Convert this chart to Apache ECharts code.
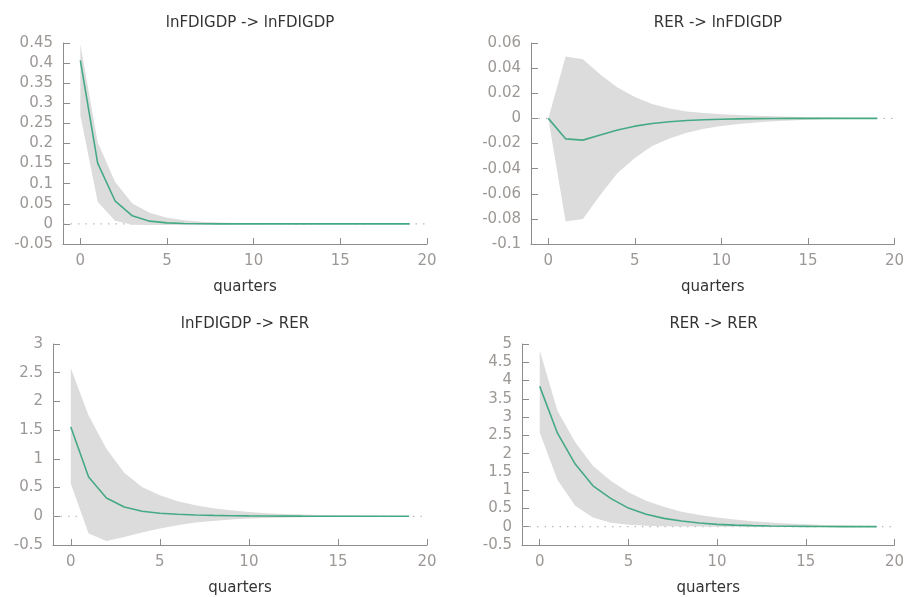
<!DOCTYPE html>
<html>
<head>
<meta charset="utf-8">
<title>Impulse responses</title>
<script src="https://cdn.jsdelivr.net/npm/echarts@6/dist/echarts.min.js"></script>
<style>
  html, body { margin: 0; padding: 0; background: #fff; }
  #chart { width: 907px; height: 597px; }
</style>
</head>
<body>
<div id="chart"></div>
<script>
const quarters = [0, 1, 2, 3, 4, 5, 6, 7, 8, 9, 10, 11, 12, 13, 14, 15, 16, 17, 18, 19];
const xTicks = [0, 5, 10, 15, 20];

// lnFDIGDP -> lnFDIGDP
const irfFF = [0.407, 0.151, 0.0575, 0.020, 0.0068, 0.0025, 0.0009, 0.0003, 0.0001, 0, 0, 0, 0, 0, 0, 0, 0, 0, 0, 0];
const hiFF = [0.447, 0.203, 0.105, 0.051, 0.0275, 0.0155, 0.009, 0.0055, 0.0033, 0.002, 0.0012, 0.0008, 0.0005, 0.0003, 0.0002, 0.0001, 0.0001, 0, 0, 0];
const loFF = [0.27, 0.055, 0.008, -0.002, -0.003, -0.003, -0.0025, -0.002, -0.0015, -0.001, -0.0008, -0.0005, -0.0003, -0.0002, -0.0001, -0.0001, 0, 0, 0, 0];

// RER -> lnFDIGDP
const irfRF = [0, -0.0163, -0.0173, -0.0133, -0.0093, -0.0062, -0.0041, -0.0027, -0.0017, -0.0011, -0.0007, -0.0004, -0.0002, -0.0001, 0, 0, 0, 0, 0, 0];
const hiRF = [0, 0.0493, 0.047, 0.035, 0.0245, 0.017, 0.0115, 0.0078, 0.0055, 0.0042, 0.0033, 0.0026, 0.002, 0.0016, 0.0012, 0.0009, 0.0007, 0.0005, 0.0003, 0.0002];
const loRF = [0, -0.082, -0.080, -0.061, -0.0435, -0.0315, -0.022, -0.016, -0.0115, -0.0083, -0.006, -0.0044, -0.0032, -0.0023, -0.0016, -0.0011, -0.0007, -0.0005, -0.0003, -0.0002];

// lnFDIGDP -> RER
const irfFR = [1.553, 0.684, 0.319, 0.162, 0.087, 0.052, 0.035, 0.023, 0.015, 0.010, 0.007, 0.005, 0.003, 0.002, 0.0015, 0.001, 0.0007, 0.0005, 0.0003, 0.0002];
const hiFR = [2.578, 1.755, 1.176, 0.76, 0.51, 0.365, 0.26, 0.19, 0.14, 0.104, 0.075, 0.055, 0.04, 0.03, 0.022, 0.016, 0.012, 0.009, 0.006, 0.004];
const loFR = [0.568, -0.30, -0.43, -0.36, -0.284, -0.214, -0.156, -0.11, -0.08, -0.058, -0.04, -0.03, -0.022, -0.016, -0.011, -0.008, -0.006, -0.004, -0.003, -0.002];

// RER -> RER
const irfRR = [3.84, 2.56, 1.715, 1.12, 0.775, 0.51, 0.34, 0.228, 0.155, 0.10, 0.065, 0.045, 0.03, 0.02, 0.013, 0.009, 0.006, 0.004, 0.003, 0.002];
const hiRR = [4.82, 3.175, 2.31, 1.67, 1.26, 0.94, 0.71, 0.55, 0.41, 0.32, 0.255, 0.2, 0.15, 0.115, 0.09, 0.07, 0.05, 0.04, 0.03, 0.02];
const loRR = [2.58, 1.28, 0.575, 0.255, 0.11, 0.055, 0.027, 0.015, 0.008, 0.004, 0.002, 0.001, 0, 0, 0, 0, 0, 0, 0, 0];

const panels = [
  { title: 'lnFDIGDP -> lnFDIGDP', irf: irfFF, hi: hiFF, lo: loFF, min: -0.05, max: 0.45, step: 0.05,
    grid: { left: 63, top: 43, width: 364, height: 201 } },
  { title: 'RER -> lnFDIGDP', irf: irfRF, hi: hiRF, lo: loRF, min: -0.1, max: 0.06, step: 0.02,
    grid: { left: 531, top: 43, width: 364, height: 201 } },
  { title: 'lnFDIGDP -> RER', irf: irfFR, hi: hiFR, lo: loFR, min: -0.5, max: 3, step: 0.5,
    grid: { left: 53, top: 344, width: 374, height: 203 } },
  { title: 'RER -> RER', irf: irfRR, hi: hiRR, lo: loRR, min: -0.5, max: 5, step: 0.5,
    grid: { left: 522, top: 344, width: 373, height: 203 } }
];

const font = 'DejaVu Sans';
const axisGrey = '#8c8c8c';
const labelGrey = '#9c9896';

// one polygon per panel: upper bound left to right, lower bound back
function bandRenderer(rows) {
  return function (params, api) {
    if (params.dataIndex !== 0) return null;
    const upper = rows.map(r => api.coord([r[0], r[2]]));
    const lower = rows.map(r => api.coord([r[0], r[1]])).reverse();
    return {
      type: 'polygon',
      shape: { points: upper.concat(lower) },
      style: { fill: '#dcdcdc', stroke: 'none' }
    };
  };
}

const option = {
  animation: false,
  title: [],
  grid: [],
  xAxis: [],
  yAxis: [],
  series: []
};

panels.forEach((p, i) => {
  option.grid.push(p.grid);
  option.title.push({
    text: p.title,
    left: p.grid.left + p.grid.width / 2,
    top: p.grid.top - 32,
    textAlign: 'center',
    textStyle: { fontFamily: font, fontSize: 15, fontWeight: 'normal', color: '#333' }
  });
  option.xAxis.push({
    gridIndex: i,
    type: 'value',
    min: -1,
    max: 20,
    name: 'quarters',
    nameLocation: 'middle',
    nameGap: 36,
    nameTextStyle: { fontFamily: font, fontSize: 15, color: '#333' },
    axisLine: { show: true, onZero: false, lineStyle: { color: axisGrey, width: 1 } },
    axisTick: { show: true, inside: true, length: 6, customValues: xTicks, lineStyle: { color: axisGrey } },
    axisLabel: { customValues: xTicks, margin: 10, fontFamily: font, fontSize: 15, color: labelGrey },
    splitLine: { show: false }
  });
  option.yAxis.push({
    gridIndex: i,
    type: 'value',
    min: p.min,
    max: p.max,
    interval: p.step,
    axisLine: { show: true, onZero: false, lineStyle: { color: axisGrey, width: 1 } },
    axisTick: { show: true, inside: true, length: 7, lineStyle: { color: axisGrey } },
    axisLabel: { margin: 10, fontFamily: font, fontSize: 15, color: labelGrey },
    splitLine: { show: false }
  });

  // dotted zero line across the whole axis
  option.series.push({
    type: 'line',
    xAxisIndex: i,
    yAxisIndex: i,
    data: [[-1, 0], [20, 0]],
    symbol: 'none',
    silent: true,
    z: 1,
    lineStyle: { color: '#aaaaaa', width: 1, type: [1.5, 6] }
  });
  // confidence band
  const rows = quarters.map((q, k) => [q, p.lo[k], p.hi[k]]);
  option.series.push({
    type: 'custom',
    xAxisIndex: i,
    yAxisIndex: i,
    data: rows,
    encode: { x: 0, y: [1, 2] },
    renderItem: bandRenderer(rows),
    silent: true,
    z: 2
  });
  option.series.push({
    type: 'line',
    xAxisIndex: i,
    yAxisIndex: i,
    data: quarters.map((q, k) => [q, p.irf[k]]),
    symbol: 'none',
    z: 3,
    lineStyle: { color: '#45aa84', width: 1.6 }
  });
});

const myChart = echarts.init(document.getElementById('chart'));
myChart.setOption(option);
</script>
</body>
</html>
